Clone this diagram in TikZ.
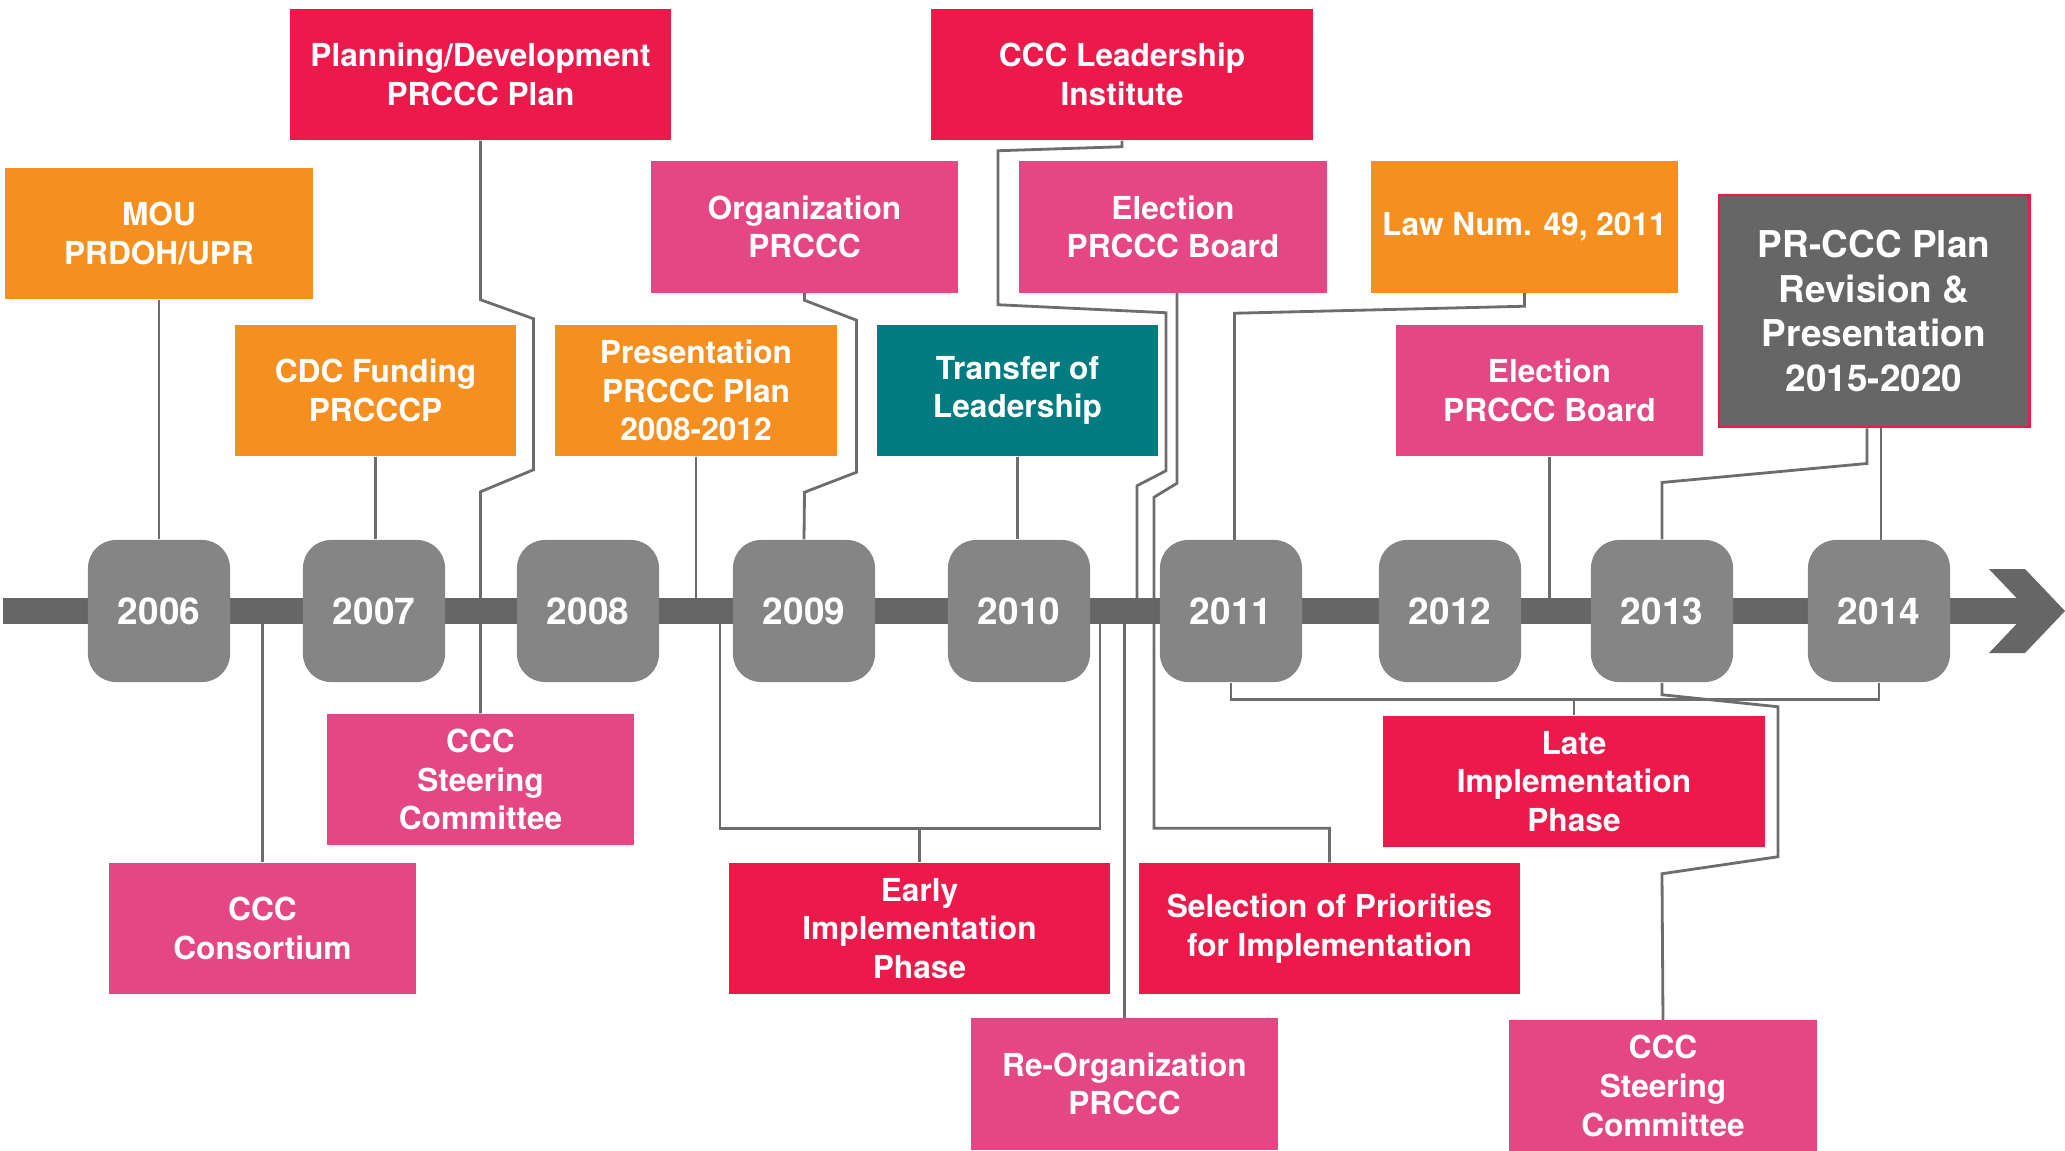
\documentclass[tikz,border=0pt]{standalone}
\usepackage{fontspec}
\setmainfont{TeX Gyre Heros}
\usepackage{xcolor}
\usepackage{tikz}
\usetikzlibrary{calc,backgrounds}

\definecolor{tlorange}{HTML}{F58F20}
\definecolor{tlred}{HTML}{ED194B}
\definecolor{tlpink}{HTML}{E54684}
\definecolor{tlteal}{HTML}{007B80}
\definecolor{tlbar}{HTML}{666666}
\definecolor{tlyear}{HTML}{858585}
\definecolor{tlline}{HTML}{6D6D6D}

\begin{document}
\begin{tikzpicture}[x=0.01cm,y=-0.01cm,
	event/.style={text=white,font=\bfseries\fontsize{9}{11}\selectfont,align=center,inner sep=0pt,minimum height=1.31cm},
	wide/.style={event,minimum width=3.81cm},
	mid/.style={event,minimum width=3.07cm},
	narrow/.style={event,minimum width=2.81cm},
	year/.style={fill=tlyear,rounded corners=0.28cm,minimum size=1.42cm,inner sep=0pt,text=white,font=\bfseries\fontsize{10.5}{12}\selectfont},
	link/.style={draw=tlline,line width=0.8pt}]

				\useasboundingbox (0,0) rectangle (2065,1151);

				% above the time line
				\node[wide,fill=tlred] (plan) at (480.5,74.5) {Planning/Development\\PRCCC Plan};
				\node[mid,fill=tlorange] (mou) at (159,233.5) {MOU\\PRDOH/UPR};
				\node[narrow,fill=tlorange] (cdc) at (375.5,390.5) {CDC Funding\\PRCCCP};
				\node[narrow,fill=tlorange] (pres) at (696,390.5) {Presentation\\PRCCC Plan\\2008-2012};
				\node[mid,fill=tlpink] (org) at (804.5,227) {Organization\\PRCCC};
				\node[wide,fill=tlred] (inst) at (1122,74.5) {CCC Leadership\\Institute};
				\node[mid,fill=tlpink] (elec1) at (1173,227) {Election\\PRCCC Board};
				\node[narrow,fill=tlteal] (transfer) at (1017.5,390.5) {Transfer of\\Leadership};
				\node[mid,fill=tlorange] (law) at (1524.5,227) {Law Num. 49, 2011};
				\node[mid,fill=tlpink] (elec2) at (1549.5,390.5) {Election\\PRCCC Board};
				\node[event,fill=tlbar,draw=tlred,line width=0.8pt,minimum width=3.1cm,minimum height=2.32cm,font=\bfseries\fontsize{10.5}{12.7}\selectfont] (prccc) at (1874,311) {PR-CCC Plan\\Revision \&\\Presentation\\2015-2020};

				% below the time line
				\node[mid,fill=tlpink] (steer1) at (480.5,779.5) {CCC\\Steering\\Committee};
				\node[mid,fill=tlpink] (consort) at (262.5,928.5) {CCC\\Consortium};
				\node[wide,fill=tlred] (early) at (919.5,928.5) {Early\\Implementation\\Phase};
				\node[wide,fill=tlred] (sel) at (1329.5,928.5) {Selection of Priorities\\for Implementation};
				\node[mid,fill=tlpink] (reorg) at (1124.5,1084) {Re-Organization\\PRCCC};
				\node[wide,fill=tlred] (late) at (1574,781.5) {Late\\Implementation\\Phase};
				\node[mid,fill=tlpink] (steer2) at (1663,1086) {CCC\\Steering\\Committee};

				% time line
				\node[fill=tlbar,inner sep=0pt,minimum width=20.25cm,minimum height=0.26cm] (axis) at (1016.5,611) {};
				\fill[tlbar] (1989,569) -- (2025,569) -- (2065,611) -- (2025,653) -- (1989,653) -- (2029,611) -- cycle;
				\node[year] (y2006) at (159,611) {2006};
				\node[year] (y2007) at (374,611) {2007};
				\node[year] (y2008) at (588,611) {2008};
				\node[year] (y2009) at (804,611) {2009};
				\node[year] (y2010) at (1019,611) {2010};
				\node[year] (y2011) at (1231,611) {2011};
				\node[year] (y2012) at (1450,611) {2012};
				\node[year] (y2013) at (1662,611) {2013};
				\node[year] (y2014) at (1879,611) {2014};

				\begin{scope}[on background layer]
				\draw[link] (mou.south) -- (mou.south |- y2006.north);
				\draw[link] (cdc.south) -- (cdc.south |- y2007.north);
				\draw[link] (plan.south) -- ++(0,159) -- ++(53,19) -- ++(0,151) -- ++(-53,22) -- (steer1.north);
				\draw[link] (pres.south) -- (pres.south |- axis.center);
				\draw[link] (org.south) -- ++(0,7) -- ++(52,20) -- ++(0,152) -- ++(-52,20) -- (y2009.north);
				\draw[link] (transfer.south) -- (transfer.south |- y2010.north);
				\draw[link] (inst.south) -- ++(0,6) -- ++(-124,4) -- ++(0,154) -- ++(168,8) -- ++(0,158) -- ++(-29,15) -- ++(0,126);
				\draw[link] ([xshift=0.04cm]elec1.south) -- ++(0,190) -- ++(-23,14) |- ($(sel.north)+(0,-34)$) -- (sel.north);
				\draw[link] (law.south) -- ++(0,13) -- ++(-290,7) -- ++(0,228);
				\draw[link] (elec2.south) -- (elec2.south |- axis.center);
				\draw[link] ([xshift=-0.07cm]prccc.south) -- ++(0,35) -- ++(-205,19) -- (y2013.north);
				\draw[link] ([xshift=0.07cm]prccc.south) -- ++(0,113);
				\draw[link] (consort.north) -- (consort.north |- axis.center);
				\draw[link] (early.north) -- ++(0,-34) coordinate (ebr) -- ++(-199.5,0) -- ++(0,-218) (ebr) -- ++(180.5,0) -- ++(0,-218);
				\draw[link] (reorg.north) -- (reorg.north |- axis.center);
				\draw[link] (late.north) -- ++(0,-16) coordinate (lbr) -- (y2011.south |- lbr) -- (y2011.south) (lbr) -- (y2014.south |- lbr) -- (y2014.south);
				\draw[link] (y2013.south) -- ++(0,12) -- ++(116,12) -- ++(0,150) -- ++(-116,17) -- (steer2.north);
				\end{scope}
			\end{tikzpicture}
\end{document}
